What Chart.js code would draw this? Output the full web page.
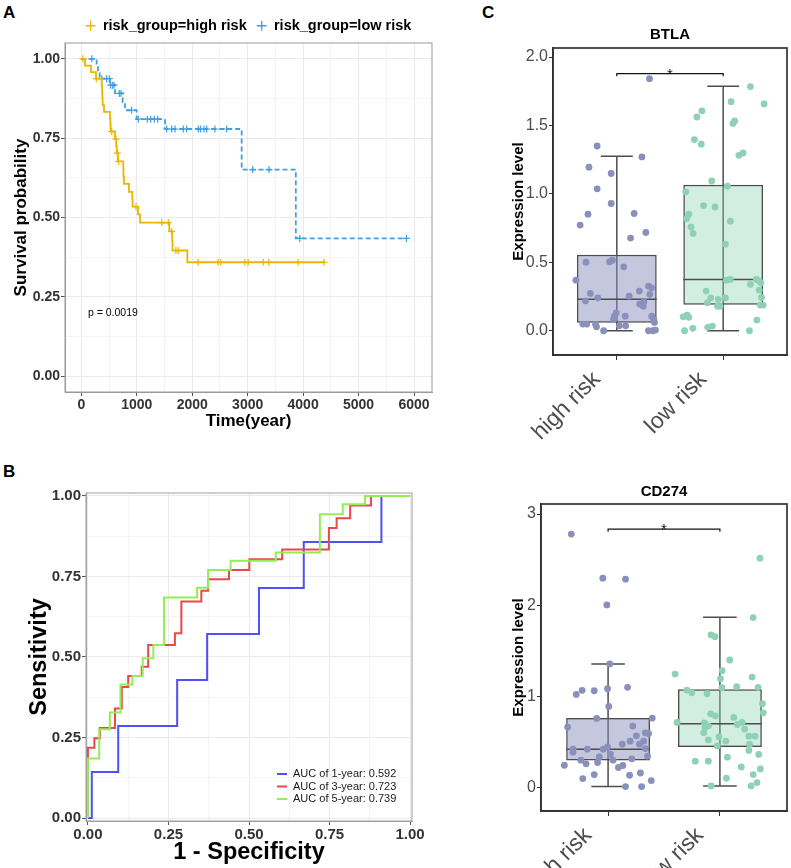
<!DOCTYPE html>
<html><head><meta charset="utf-8">
<script src="https://cdn.jsdelivr.net/npm/chart.js@4.4.1/dist/chart.umd.min.js"></script>
<style>
html,body{margin:0;padding:0;background:#fff;width:791px;height:868px;overflow:hidden;}
canvas{position:absolute;}
.lbl{position:absolute;font:bold 17px "Liberation Sans",Arial,sans-serif;color:#000;line-height:17px;}
</style></head><body>
<div class="lbl" style="left:3px;top:4px">A</div>
<div class="lbl" style="left:3px;top:463px">B</div>
<div class="lbl" style="left:482px;top:4px">C</div>
<canvas id="cA" width="480" height="440" style="left:0;top:0"></canvas>
<canvas id="cB" width="445" height="413" style="left:0;top:455px"></canvas>
<canvas id="cC1" width="311" height="450" style="left:480px;top:0"></canvas>
<canvas id="cC2" width="311" height="413" style="left:480px;top:455px"></canvas>
<script>
// ===================== DATA =====================
// Panel A: Kaplan-Meier (time, survival after each event)
const highTime = [0,67,175,265,367,375,380,385,409,517,525,530,608,630,640,660,757,760,769,860,920,925,1022,1058,1587,1640,1645,1912,4391];
const highSurv = [1,0.979,0.958,0.9375,0.917,0.896,0.875,0.854,0.833,0.812,0.792,0.771,0.747,0.725,0.703,0.677,0.654,0.630,0.606,0.581,0.558,0.534,0.510,0.484,0.456,0.426,0.396,0.359,0.359];
const highCensorTime = [30,270,548,626,650,672,986,1450,1569,1630,1706,1748,2108,2468,2517,2950,3009,3279,3381,3910,4378];
const highCensorSurv = [1,0.9375,0.771,0.747,0.703,0.677,0.534,0.484,0.484,0.456,0.396,0.396,0.359,0.359,0.359,0.359,0.359,0.359,0.359,0.359,0.359];
const lowTime = [0,277,300,330,517,608,746,788,998,1509,2892,3868,5863];
const lowSurv = [1,0.979,0.958,0.9375,0.917,0.891,0.864,0.838,0.810,0.779,0.651,0.434,0.434];
const lowCensorTime = [190,367,457,505,530,566,590,685,716,908,1028,1190,1251,1316,1377,1540,1630,1690,1840,1900,2110,2153,2213,2261,2410,2622,3091,3385,3940,5863];
const lowCensorSurv = [1,0.9375,0.9375,0.9375,0.917,0.917,0.917,0.891,0.891,0.838,0.810,0.810,0.810,0.810,0.810,0.779,0.779,0.779,0.779,0.779,0.779,0.779,0.779,0.779,0.779,0.779,0.651,0.651,0.434,0.434];
const kmSeriesNames = ['risk_group=high risk','risk_group=low risk'];
const kmTimeTicks = [0,1000,2000,3000,4000,5000,6000];
const kmSurvTicks = [0,0.25,0.5,0.75,1];
const pValueText = 'p = 0.0019';

// Panel B: time-dependent ROC (FPR where the step rises, TPR after rise)
const roc1Fpr = [0,0.012,0.094,0.277,0.370,0.531,0.670,0.911,1];
const roc1Tpr = [0,0.143,0.286,0.429,0.571,0.714,0.857,1,1];
const roc3Fpr = [0,0,0.020,0.037,0.084,0.105,0.125,0.167,0.187,0.270,0.290,0.352,0.373,0.438,0.501,0.603,0.748,0.772,0.814,0.879,1];
const roc3Tpr = [0,0.218,0.248,0.280,0.340,0.407,0.441,0.470,0.537,0.574,0.672,0.706,0.741,0.770,0.803,0.834,0.900,0.931,0.970,1,1];
const roc5Fpr = [0,0,0.035,0.068,0.101,0.138,0.170,0.203,0.236,0.339,0.373,0.443,0.583,0.720,0.791,0.860,1];
const roc5Tpr = [0,0.185,0.276,0.328,0.415,0.441,0.496,0.537,0.685,0.715,0.770,0.799,0.824,0.943,0.974,1,1];
const rocLabels = ['AUC of 1-year: 0.592','AUC of 3-year: 0.723','AUC of 5-year: 0.739'];
const rocTicks = [0,0.25,0.5,0.75,1];

// Panel C: expression boxplots
const groupLabels = ['high risk','low risk'];
const btlaHighVal = [1.842,1.350,1.270,1.195,1.149,1.037,0.930,0.852,0.857,0.772,0.718,0.677,0.501,0.504,0.516,0.467,0.370,0.273,0.241,0.219,0.253,0.290,0.326,0.314,0.266,0.212,0.195,0.180,0.131,0.107,0.107,0.083,0.107,0.083,0.049,0.049,0.047,0.029,0.036,0.036,0.061,0,0,0,0.005];
const btlaHighJit = [0.307,-0.185,0.236,-0.262,-0.053,-0.185,-0.053,-0.271,0.163,-0.345,0.273,0.129,-0.290,-0.068,-0.041,0.065,-0.385,-0.249,-0.179,-0.295,0.116,0.212,0.298,0.326,0.310,0.255,0.215,0.249,-0.006,-0.022,0.079,-0.031,0.329,0.347,-0.320,-0.283,-0.200,-0.191,0.024,0.083,0.354,-0.124,0.298,0.338,0.363];
const btlaLowVal = [1.784,1.657,1.674,1.606,1.562,1.533,1.514,1.397,1.363,1.299,1.282,1.095,1.056,1.015,0.915,0.905,0.852,0.818,0.801,0.759,0.711,0.633,0.370,0.375,0.375,0.365,0.350,0.339,0.297,0.290,0.244,0.241,0.204,0.229,0.241,0.180,0.180,0.188,0.188,0.102,0.115,0.098,0.078,0.018,0,0.025,0.034,0];
const btlaLowJit = [0.256,0.385,0.074,-0.200,-0.247,0.108,0.092,-0.271,-0.206,0.187,0.148,-0.108,0.040,-0.351,-0.185,-0.077,-0.323,-0.344,0.067,-0.302,-0.283,0.021,0.030,0.067,0.311,0.339,0.354,0.256,0.339,-0.160,0.360,-0.117,-0.148,-0.046,0.021,-0.030,-0.053,0.348,0.376,-0.376,-0.339,-0.323,0.317,-0.286,-0.363,-0.145,-0.102,0.247];
const btlaQ1 = [0.058,0.190], btlaMed = [0.231,0.375], btlaQ3 = [0.555,1.066], btlaLo = [0,0], btlaHi = [1.275,1.786];
const btlaSig = [1.879,1.859];
const btlaTicks = [0,0.5,1,1.5,2];

const cd274HighVal = [2.780,2.297,2.286,2.003,1.355,1.022,1.066,1.062,1.084,1.099,0.890,0.758,0.762,0.663,0.674,0.600,0.593,0.567,0.509,0.476,0.476,0.509,0.428,0.421,0.388,0.421,0.421,0.446,0.366,0.300,0.336,0.344,0.315,0.300,0.260,0.275,0.245,0.220,0.242,0.143,0.135,0.160,0.099,0.077,0.011,0.011];
const cd274HighJit = [-0.329,-0.047,0.156,-0.011,0.015,-0.285,-0.232,-0.124,-0.005,0.174,0.006,-0.102,0.395,-0.362,0.221,0.333,0.362,0.253,0.198,0.127,0.280,0.318,0.333,-0.314,-0.314,-0.185,-0.044,-0.005,0.021,0.044,-0.079,0.353,0.212,-0.244,-0.197,-0.094,-0.391,0.092,0.132,-0.124,0.192,0.289,-0.226,0.386,0.156,0.300];
const cd274LowVal = [2.516,1.864,1.674,1.655,1.399,1.245,1.282,1.212,1.194,1.069,1.040,1.029,1.095,1.106,1.099,0.919,0.820,0.809,0.787,0.769,0.714,0.710,0.677,0.659,0.714,0.692,0.641,0.600,0.564,0.564,0.556,0.523,0.509,0.476,0.457,0.407,0.363,0.333,0.289,0.289,0.226,0.204,0.143,0.102,0.055,0.018,0.018];
const cd274LowJit = [0.358,0.297,-0.079,-0.044,0.088,-0.401,0.020,0.288,0.005,-0.295,-0.251,-0.115,0.018,0.150,0.341,0.380,0.388,-0.083,-0.041,0.124,-0.383,-0.139,-0.103,-0.132,0.199,0.155,0.221,-0.145,0.259,0.314,-0.009,-0.103,0.053,0.265,-0.024,0.259,0.347,0.067,-0.221,-0.103,0.191,0.362,0.297,0.058,0.332,0.279,-0.079];
const cd274Q1 = [0.297,0.446], cd274Med = [0.421,0.699], cd274Q3 = [0.762,1.077], cd274Lo = [0.011,0.018], cd274Hi = [1.355,1.868];
const cd274Sig = [2.835,2.805];
const cd274Ticks = [0,1,2,3];

// ===================== STYLE / HELPERS =====================
const FONT = '"Liberation Sans", Arial, Helvetica, sans-serif';
Chart.defaults.font.family = FONT;
Chart.defaults.animation = false;
Chart.defaults.responsive = false;
Chart.defaults.events = [];
Chart.defaults.plugins.tooltip.enabled = false;
Chart.defaults.plugins.legend.display = false;

const frame = {
  id: 'frame',
  afterDatasetsDraw(chart, args, o) {
    const {ctx, chartArea: a} = chart;
    ctx.save(); ctx.strokeStyle = o.color || '#999'; ctx.lineWidth = o.width || 1;
    ctx.strokeRect(a.left, a.top, a.right - a.left, a.bottom - a.top);
    ctx.restore();
  }
};
const notes = {
  id: 'notes',
  afterDatasetsDraw(chart, args, o) {
    const {ctx} = chart; const xs = chart.scales.x, ys = chart.scales.y;
    (o.items || []).forEach(it => {
      ctx.save(); ctx.font = it.font; ctx.fillStyle = it.color || '#000';
      ctx.textAlign = it.align || 'left'; ctx.textBaseline = it.baseline || 'middle';
      ctx.fillText(it.text, xs.getPixelForValue(it.x) + (it.dx || 0), ys.getPixelForValue(it.y) + (it.dy || 0));
      ctx.restore();
    });
  }
};
const panelTitle = {
  id: 'panelTitle',
  afterDraw(chart, args, o) {
    if (!o.text) return;
    const {ctx, chartArea: a} = chart;
    ctx.save(); ctx.font = o.font; ctx.fillStyle = '#000'; ctx.textAlign = 'center'; ctx.textBaseline = 'middle';
    ctx.fillText(o.text, (a.left + a.right) / 2, a.top + o.dy);
    ctx.restore();
  }
};
const rocLegend = {
  id: 'rocLegend',
  afterDatasetsDraw(chart, args, o) {
    if (!o.rows) return;
    const {ctx, chartArea: a} = chart;
    ctx.save(); ctx.font = o.font; ctx.textBaseline = 'middle'; ctx.textAlign = 'left';
    chart.data.datasets.forEach((d, i) => {
      const y = a.bottom + o.rows[i], x = a.right + o.x;
      ctx.strokeStyle = d.borderColor; ctx.lineWidth = 2;
      ctx.beginPath(); ctx.moveTo(x, y); ctx.lineTo(x + o.len, y); ctx.stroke();
      ctx.fillStyle = '#1a1a1a'; ctx.fillText(d.label, x + o.len + o.gap, y);
    });
    ctx.restore();
  }
};
const pts = (xs, ys) => xs.map((x, i) => ({x, y: ys[i]}));
const withMinor = (major) => {
  const out = [];
  major.forEach((v, i) => { out.push(v); if (i < major.length - 1) out.push((v + major[i + 1]) / 2); });
  return out;
};
const isMajor = (major, v) => major.some(m => Math.abs(m - v) < 1e-9);

// ===================== PANEL A =====================
const HIGH_C = '#E7B800', LOW_C = '#3FA0E0';
new Chart(document.getElementById('cA'), {
  type: 'scatter',
  data: { datasets: [
    {type:'line', label: kmSeriesNames[0], data: pts(highTime, highSurv), stepped:'before', borderColor: HIGH_C, backgroundColor: HIGH_C, borderWidth: 1.8, pointRadius: 0, pointStyle:'cross', fill:false},
    {type:'line', label: kmSeriesNames[1], data: pts(lowTime, lowSurv), stepped:'before', borderColor: LOW_C, backgroundColor: LOW_C, borderWidth: 1.8, borderDash:[5,3], pointRadius: 0, pointStyle:'cross', fill:false},
    {type:'scatter', data: pts(highCensorTime, highCensorSurv), pointStyle:'cross', pointRadius: 3.5, borderColor: HIGH_C, borderWidth: 1.2},
    {type:'scatter', data: pts(lowCensorTime, lowCensorSurv), pointStyle:'cross', pointRadius: 3.5, borderColor: LOW_C, borderWidth: 1.2}
  ]},
  options: {
    layout: {padding: {top: 8.5, right: 48, left: 0, bottom: 0}},
    plugins: {
      legend: {display: true, position: 'top', align: 'center', fullSize: false,
        labels: {usePointStyle: true, boxWidth: 10, boxHeight: 7, padding: 10, color: '#000',
          font: {size: 14.5, weight: 'bold'},
          filter: it => it.datasetIndex < 2,
          generateLabels: ch => Chart.defaults.plugins.legend.labels.generateLabels(ch).map(it => Object.assign(it, {lineDash: [], lineWidth: 1.3}))}},
      frame: {color: '#9a9a9a', width: 1},
      notes: {items: [{x: 120, y: 0.2, text: pValueText, font: '10.5px ' + FONT, align: 'left', baseline: 'middle', color: '#000'}]}
    },
    scales: {
      x: {type: 'linear', min: -294, max: 6324,
        afterBuildTicks: s => { s.ticks = withMinor(kmTimeTicks).map(v => ({value: v})); },
        afterFit: s => { s.height = 48; },
        ticks: {autoSkip: false, maxRotation: 0, padding: 1, color: '#333', font: {size: 14, weight: 'bold'},
          callback: v => isMajor(kmTimeTicks, v) ? String(v) : ''},
        grid: {color: c => isMajor(kmTimeTicks, c.tick.value) ? '#EBEBEB' : '#F4F4F4', tickColor: c => isMajor(kmTimeTicks, c.tick.value) ? '#555' : 'rgba(0,0,0,0)', tickLength: 4},
        border: {display: true, color: '#9a9a9a'},
        title: {display: true, text: 'Time(year)', color: '#000', font: {size: 17, weight: 'bold'}, padding: {top: 0, bottom: 8}}
      },
      y: {type: 'linear', min: -0.05, max: 1.05,
        afterBuildTicks: s => { s.ticks = withMinor(kmSurvTicks).map(v => ({value: v})); },
        afterFit: s => { s.width = 65; },
        ticks: {autoSkip: false, padding: 1, color: '#333', font: {size: 14, weight: 'bold'},
          callback: v => isMajor(kmSurvTicks, v) ? v.toFixed(2) : ''},
        grid: {color: c => isMajor(kmSurvTicks, c.tick.value) ? '#EBEBEB' : '#F4F4F4', tickColor: c => isMajor(kmSurvTicks, c.tick.value) ? '#555' : 'rgba(0,0,0,0)', tickLength: 4},
        border: {display: true, color: '#9a9a9a'},
        title: {display: true, text: 'Survival probability', color: '#000', font: {size: 17, weight: 'bold'}, padding: {top: 11, bottom: 0}}
      }
    }
  },
  plugins: [frame, notes]
});

// ===================== PANEL B =====================
new Chart(document.getElementById('cB'), {
  type: 'scatter',
  data: { datasets: [
    {type:'line', label: rocLabels[0], data: pts(roc1Fpr, roc1Tpr), stepped:'before', borderColor:'#5050F8', borderWidth:2, pointRadius:0, fill:false, order:2},
    {type:'line', label: rocLabels[1], data: pts(roc3Fpr, roc3Tpr), stepped:'before', borderColor:'#E8484A', borderWidth:2, pointRadius:0, fill:false, order:1},
    {type:'line', label: rocLabels[2], data: pts(roc5Fpr, roc5Tpr), stepped:'before', borderColor:'#93EE55', borderWidth:2, pointRadius:0, fill:false, order:0}
  ]},
  options: {
    layout: {padding: {top: 38, right: 33, left: 0, bottom: 0}},
    plugins: {
      frame: {color: '#a0a0a0', width: 1},
      rocLegend: {rows: [-47, -34.5, -22], x: -135, len: 10, gap: 6, font: '11px ' + FONT}
    },
    scales: {
      x: {type: 'linear', min: -0.006, max: 1.006,
        afterBuildTicks: s => { s.ticks = withMinor(rocTicks).map(v => ({value: v})); },
        afterFit: s => { s.height = 47; },
        ticks: {autoSkip: false, maxRotation: 0, padding: 1, color: '#333', font: {size: 15, weight: 'bold'},
          callback: v => isMajor(rocTicks, v) ? v.toFixed(2) : ''},
        grid: {color: c => isMajor(rocTicks, c.tick.value) ? '#EBEBEB' : '#F4F4F4', tickColor: c => isMajor(rocTicks, c.tick.value) ? '#555' : 'rgba(0,0,0,0)', tickLength: 4},
        border: {display: true, color: '#a0a0a0'},
        title: {display: true, text: '1 - Specificity', color: '#000', font: {size: 23.5, weight: 'bold'}, padding: {top: 0, bottom: 1}}
      },
      y: {type: 'linear', min: -0.009, max: 1.009,
        afterBuildTicks: s => { s.ticks = withMinor(rocTicks).map(v => ({value: v})); },
        afterFit: s => { s.width = 86; },
        ticks: {autoSkip: false, padding: 1, color: '#333', font: {size: 15, weight: 'bold'},
          callback: v => isMajor(rocTicks, v) ? v.toFixed(2) : ''},
        grid: {color: c => isMajor(rocTicks, c.tick.value) ? '#EBEBEB' : '#F4F4F4', tickColor: c => isMajor(rocTicks, c.tick.value) ? '#555' : 'rgba(0,0,0,0)', tickLength: 4},
        border: {display: true, color: '#a0a0a0'},
        title: {display: true, text: 'Sensitivity', color: '#000', font: {size: 23.5, weight: 'bold'}, padding: {top: 25, bottom: 0}}
      }
    }
  },
  plugins: [frame, rocLegend]
});

// ===================== PANEL C =====================
const groupPos = [1, 2];
const groupColors = ['#8990BC', '#8FD1B4'];
const groupFills = ['rgba(137,144,188,0.5)', 'rgba(143,209,180,0.4)'];
const BOX_HALF = 0.375, CAP_HALF = 0.15, LINE_C = '#4D4D4D';

function boxChart(id, c) {
  const ds = [];
  [0, 1].forEach(g => {
    ds.push({type:'scatter', data: c.vals[g].map((v, i) => ({x: groupPos[g] + c.jit[g][i], y: v})),
      backgroundColor: groupColors[g], borderWidth: 0, pointRadius: 3.4, order: 0});
  });
  ds.push({type:'line', data: [{x: groupPos[0], y: c.sig[1]}, {x: groupPos[0], y: c.sig[0]}, {x: groupPos[1], y: c.sig[0]}, {x: groupPos[1], y: c.sig[1]}],
    borderColor: '#111', borderWidth: 1.2, pointRadius: 0, fill: false, order: 0});
  [0, 1].forEach(g => {
    ds.push({type:'line', data: [{x: groupPos[g] - BOX_HALF, y: c.med[g]}, {x: groupPos[g] + BOX_HALF, y: c.med[g]}],
      borderColor: LINE_C, borderWidth: 1.5, pointRadius: 0, fill: false, order: 1});
  });
  ds.push({type:'bar', data: groupPos.map((p, g) => ({x: p, y: [c.q1[g], c.q3[g]]})),
    backgroundColor: groupFills, borderColor: LINE_C, borderWidth: 1.5, borderSkipped: false,
    categoryPercentage: 1, barPercentage: 0.75, order: 2});
  [0, 1].forEach(g => {
    ds.push({type:'line', data: [{x: groupPos[g], y: c.lo[g]}, {x: groupPos[g], y: c.hi[g]}], borderColor: LINE_C, borderWidth: 1.5, pointRadius: 0, fill: false, order: 3});
    ds.push({type:'line', data: [{x: groupPos[g] - CAP_HALF, y: c.hi[g]}, {x: groupPos[g] + CAP_HALF, y: c.hi[g]}], borderColor: LINE_C, borderWidth: 1.5, pointRadius: 0, fill: false, order: 3});
    ds.push({type:'line', data: [{x: groupPos[g] - CAP_HALF, y: c.lo[g]}, {x: groupPos[g] + CAP_HALF, y: c.lo[g]}], borderColor: LINE_C, borderWidth: 1.5, pointRadius: 0, fill: false, order: 3});
  });
  return new Chart(document.getElementById(id), {
    type: 'scatter',
    data: {datasets: ds},
    options: {
      layout: {padding: {top: c.padTop, right: c.padRight, left: 0, bottom: 0}},
      plugins: {
        frame: {color: '#333', width: 1.7},
        panelTitle: {text: c.title, font: 'bold 15px ' + FONT, dy: c.titleDy},
        notes: {items: [{x: 1.5, y: c.sig[0], text: '*', font: '15px ' + FONT, align: 'center', baseline: 'alphabetic', dy: 5, color: '#111'}]}
      },
      scales: {
        x: {type: 'linear', min: 0.4, max: 2.6, offset: false,
          afterBuildTicks: s => { s.ticks = groupPos.map(v => ({value: v})); },
          afterFit: s => { s.height = c.xH; },
          ticks: {autoSkip: false, minRotation: 45, maxRotation: 45, padding: 6, labelOffset: -20, color: '#4D4D4D', font: {size: 23},
            callback: (v, i) => groupLabels[i]},
          grid: {offset: false, drawOnChartArea: false, tickLength: 5, tickColor: '#333'},
          border: {display: true, color: '#333', width: 1.7}
        },
        y: {type: 'linear', min: c.yMin, max: c.yMax, beginAtZero: false,
          afterBuildTicks: s => { s.ticks = c.ticks.map(v => ({value: v})); },
          afterFit: s => { s.width = c.yW; },
          ticks: {autoSkip: false, padding: 1, color: '#4D4D4D', font: {size: 16}, callback: v => c.fmt(v)},
          grid: {drawOnChartArea: false, tickLength: 4, tickColor: '#333'},
          border: {display: true, color: '#333', width: 1.7},
          title: {display: true, text: 'Expression level', color: '#000', font: {size: 15, weight: 'bold'}, padding: {top: 30, bottom: 0}}
        }
      }
    },
    plugins: [frame, notes, panelTitle]
  });
}

boxChart('cC1', {title: 'BTLA', vals: [btlaHighVal, btlaLowVal], jit: [btlaHighJit, btlaLowJit],
  q1: btlaQ1, med: btlaMed, q3: btlaQ3, lo: btlaLo, hi: btlaHi, sig: btlaSig, ticks: btlaTicks, fmt: v => v.toFixed(1),
  yMin: -0.177, yMax: 2.066, padTop: 48, padRight: 2, yW: 73, xH: 95, titleDy: -13});
boxChart('cC2', {title: 'CD274', vals: [cd274HighVal, cd274LowVal], jit: [cd274HighJit, cd274LowJit],
  q1: cd274Q1, med: cd274Med, q3: cd274Q3, lo: cd274Lo, hi: cd274Hi, sig: cd274Sig, ticks: cd274Ticks, fmt: v => String(v),
  yMin: -0.257, yMax: 3.11, padTop: 49, padRight: 3, yW: 61, xH: 57, titleDy: -12.3});
</script>
</body></html>
